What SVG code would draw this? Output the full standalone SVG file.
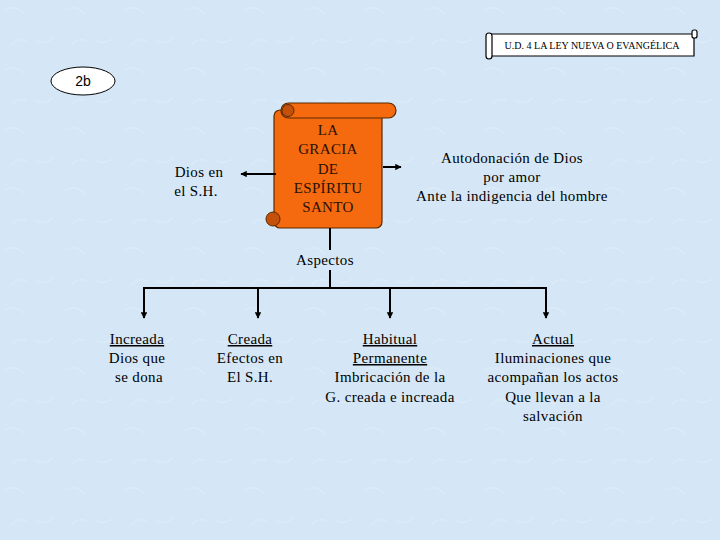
<svg xmlns="http://www.w3.org/2000/svg" width="720" height="540" viewBox="0 0 720 540">
<defs>
<style>
.u{text-decoration:underline}
.ln{stroke:#000;stroke-width:2;fill:none}
</style>
<marker id="ah" viewBox="0 0 10 10" refX="9" refY="5" markerWidth="3.2" markerHeight="3.2" orient="auto"><path d="M0,0L10,5L0,10z" fill="#000"/></marker>
<pattern id="bg" width="60" height="60" patternUnits="userSpaceOnUse">
<rect width="60" height="60" fill="#d5e7f6"/>
<path d="M5,10q10,-6 20,4M35,40q8,6 18,-2M12,45q6,-8 14,-4" stroke="#dcebf8" stroke-width="1.5" fill="none"/>
</pattern>
</defs>
<rect width="720" height="540" fill="url(#bg)"/>
<g id="title">
<path d="M490,34H694V56H490Z" fill="#fff" stroke="#000" stroke-width="1.2"/>
<rect x="486" y="33" width="6" height="26" rx="3" fill="#fff" stroke="#000" stroke-width="1.2"/>
<rect x="692" y="30" width="5" height="8" rx="2" fill="#fff" stroke="#000" stroke-width="1.2"/>
<text x="592" y="49" font-family="Liberation Serif" font-size="10" text-anchor="middle">U.D. 4  LA LEY NUEVA O EVANGÉLICA</text>
</g>
<g id="label2b">
<ellipse cx="83" cy="81" rx="32" ry="14" fill="#fff" stroke="#000" stroke-width="1"/>
<text x="83" y="86" font-family="Liberation Sans" font-size="14" text-anchor="middle">2b</text>
</g>
<g id="gracia">
<rect x="274" y="110" width="108" height="118" rx="6" fill="#f56a0f" stroke="#5a2a00" stroke-width="1.2"/>
<rect x="281" y="103" width="115" height="15" rx="7.5" fill="#f56a0f" stroke="#5a2a00" stroke-width="1.2"/>
<circle cx="288" cy="110.5" r="6" fill="#c5500a" stroke="#5a2a00" stroke-width="1"/>
<circle cx="273" cy="219" r="7" fill="#c5500a" stroke="#5a2a00" stroke-width="1"/>
<text x="328" y="135" font-family="Liberation Serif" font-size="15" letter-spacing="0.35" text-anchor="middle" fill="#2a1000">LA</text>
<text x="328" y="154" font-family="Liberation Serif" font-size="15" letter-spacing="0.35" text-anchor="middle" fill="#2a1000">GRACIA</text>
<text x="328" y="174" font-family="Liberation Serif" font-size="15" letter-spacing="0.35" text-anchor="middle" fill="#2a1000">DE</text>
<text x="328" y="193" font-family="Liberation Serif" font-size="15" letter-spacing="0.35" text-anchor="middle" fill="#2a1000">ESPÍRITU</text>
<text x="328" y="212" font-family="Liberation Serif" font-size="15" letter-spacing="0.35" text-anchor="middle" fill="#2a1000">SANTO</text>
</g>
<g id="connectors">
<line class="ln" x1="276" y1="174" x2="241" y2="174" marker-end="url(#ah)"/>
<line class="ln" x1="383" y1="167" x2="401" y2="167" marker-end="url(#ah)"/>
<line class="ln" x1="330" y1="228" x2="330" y2="250"/>
<line class="ln" x1="330" y1="270" x2="330" y2="288"/>
<line class="ln" x1="143" y1="288" x2="547" y2="288"/>
<line class="ln" x1="144" y1="288" x2="144" y2="318" marker-end="url(#ah)"/>
<line class="ln" x1="258" y1="288" x2="258" y2="318" marker-end="url(#ah)"/>
<line class="ln" x1="390" y1="288" x2="390" y2="318" marker-end="url(#ah)"/>
<line class="ln" x1="546" y1="288" x2="546" y2="318" marker-end="url(#ah)"/>
</g>
<g id="dios">
<text x="199" y="177" font-family="Liberation Serif" font-size="15" letter-spacing="0.35" text-anchor="middle">Dios en</text>
<text x="196" y="196" font-family="Liberation Serif" font-size="15" letter-spacing="0.35" text-anchor="middle">el S.H.</text>
</g>
<g id="autodonacion">
<text x="512" y="163" font-family="Liberation Serif" font-size="15" letter-spacing="0.35" text-anchor="middle">Autodonación de Dios</text>
<text x="512" y="182" font-family="Liberation Serif" font-size="15" letter-spacing="0.35" text-anchor="middle">por amor</text>
<text x="512" y="201" font-family="Liberation Serif" font-size="15" letter-spacing="0.35" text-anchor="middle">Ante la indigencia del hombre</text>
</g>
<g id="aspectos"><text x="325" y="265" font-family="Liberation Serif" font-size="15" letter-spacing="0.35" text-anchor="middle">Aspectos</text></g>
<g id="increada">
<text class="u" x="137" y="344" font-family="Liberation Serif" font-size="15" letter-spacing="0.35" text-anchor="middle">Increada</text>
<text x="137" y="363" font-family="Liberation Serif" font-size="15" letter-spacing="0.35" text-anchor="middle">Dios que</text>
<text x="139" y="382" font-family="Liberation Serif" font-size="15" letter-spacing="0.35" text-anchor="middle">se dona</text>
</g>
<g id="creada">
<text class="u" x="250" y="344" font-family="Liberation Serif" font-size="15" letter-spacing="0.35" text-anchor="middle">Creada</text>
<text x="250" y="363" font-family="Liberation Serif" font-size="15" letter-spacing="0.35" text-anchor="middle">Efectos en</text>
<text x="250" y="382" font-family="Liberation Serif" font-size="15" letter-spacing="0.35" text-anchor="middle">El S.H.</text>
</g>
<g id="habitual">
<text class="u" x="390" y="344" font-family="Liberation Serif" font-size="15" letter-spacing="0.35" text-anchor="middle">Habitual</text>
<text class="u" x="390" y="363" font-family="Liberation Serif" font-size="15" letter-spacing="0.35" text-anchor="middle">Permanente</text>
<text x="390" y="382" font-family="Liberation Serif" font-size="15" letter-spacing="0.35" text-anchor="middle">Imbricación de la</text>
<text x="390" y="402" font-family="Liberation Serif" font-size="15" letter-spacing="0.35" text-anchor="middle">G. creada e increada</text>
</g>
<g id="actual">
<text class="u" x="553" y="344" font-family="Liberation Serif" font-size="15" letter-spacing="0.35" text-anchor="middle">Actual</text>
<text x="553" y="363" font-family="Liberation Serif" font-size="15" letter-spacing="0.35" text-anchor="middle">Iluminaciones que</text>
<text x="553" y="382" font-family="Liberation Serif" font-size="15" letter-spacing="0.35" text-anchor="middle">acompañan los actos</text>
<text x="553" y="402" font-family="Liberation Serif" font-size="15" letter-spacing="0.35" text-anchor="middle">Que llevan a la</text>
<text x="553" y="421" font-family="Liberation Serif" font-size="15" letter-spacing="0.35" text-anchor="middle">salvación</text>
</g>
</svg>
